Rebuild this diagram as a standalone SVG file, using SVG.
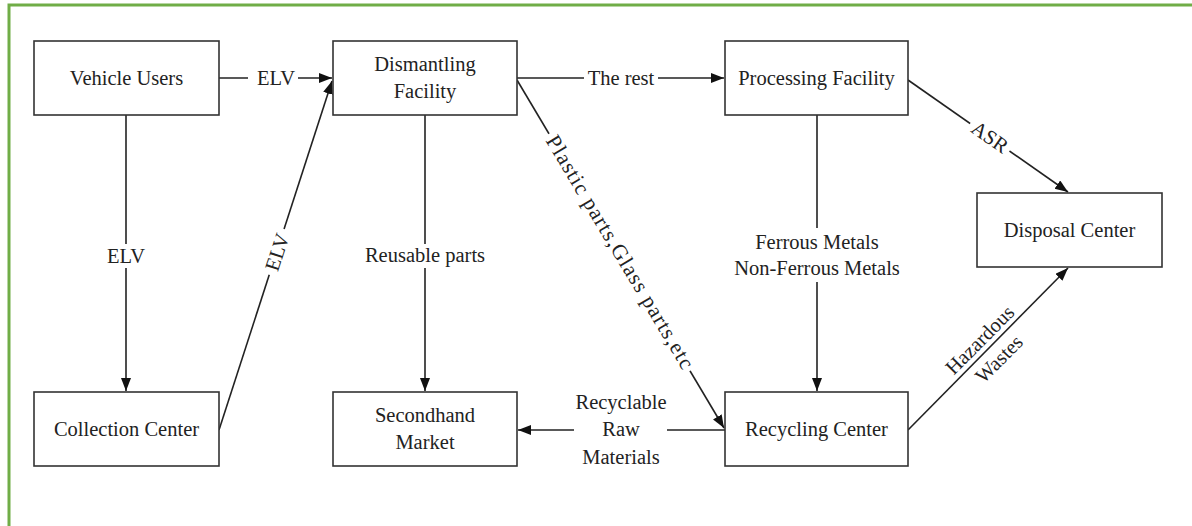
<svg xmlns="http://www.w3.org/2000/svg" width="1192" height="526" viewBox="0 0 1192 526">
<style>
.box{fill:#fff;stroke:#333;stroke-width:1.6}
.t{font-family:"Liberation Serif","Times New Roman",serif;font-size:20.5px;fill:#222;text-anchor:middle}
.c{fill:none;stroke:#222;stroke-width:1.6}
.gap{fill:#fff}
</style>
<defs>
<marker id="ah" markerUnits="userSpaceOnUse" markerWidth="14" markerHeight="12" refX="13" refY="5" orient="auto">
<path d="M0,0 L13,5 L0,10 z" fill="#111"/>
</marker>
</defs>
<rect x="0" y="0" width="1192" height="526" fill="#fff"/>
<path d="M9,526 V5 H1192" fill="none" stroke="#70ad47" stroke-width="3"/>

<g id="connectors">
<line class="c" x1="219" y1="78" x2="332" y2="78" marker-end="url(#ah)"/>
<line class="c" x1="126" y1="115" x2="126" y2="391" marker-end="url(#ah)"/>
<line class="c" x1="219" y1="430" x2="332" y2="81" marker-end="url(#ah)"/>
<line class="c" x1="425" y1="115" x2="425" y2="391" marker-end="url(#ah)"/>
<line class="c" x1="517" y1="78" x2="724" y2="78" marker-end="url(#ah)"/>
<line class="c" x1="517" y1="80" x2="724" y2="428" marker-end="url(#ah)"/>
<line class="c" x1="817" y1="115" x2="817" y2="391" marker-end="url(#ah)"/>
<line class="c" x1="908" y1="80" x2="1068" y2="192" marker-end="url(#ah)"/>
<line class="c" x1="908" y1="430" x2="1068" y2="268" marker-end="url(#ah)"/>
<line class="c" x1="725" y1="430" x2="518" y2="430" marker-end="url(#ah)"/>

<rect class="gap" x="248" y="68" width="50" height="20"/>
<text class="t" x="276" y="85">ELV</text>
<rect class="gap" x="106" y="244" width="40" height="24"/>
<text class="t" x="126" y="263">ELV</text>
<g transform="translate(277,252) rotate(-72)">
<rect class="gap" x="-24" y="-10" width="48" height="20"/>
<text class="t" x="0" y="7">ELV</text>
</g>
<rect class="gap" x="360" y="244" width="130" height="24"/>
<text class="t" x="425" y="262">Reusable parts</text>
<rect class="gap" x="584" y="68" width="74" height="20"/>
<text class="t" x="621" y="85">The rest</text>
<g transform="translate(620,252) rotate(59.13)">
<rect class="gap" x="-138" y="-10" width="276" height="20"/>
<text class="t" x="0" y="7" style="font-size:21.5px" textLength="268" lengthAdjust="spacing">Plastic parts,Glass parts,etc</text>
</g>
<g transform="translate(990,137) rotate(34.9)">
<rect class="gap" x="-24" y="-10" width="48" height="20"/>
<text class="t" x="0" y="7">ASR</text>
</g>
<rect class="gap" x="740" y="228" width="154" height="54"/>
<text class="t" x="817" y="249">Ferrous Metals</text>
<text class="t" x="817" y="275">Non-Ferrous Metals</text>
<g transform="translate(989,349) rotate(-45.2)">
<text class="t" x="0" y="-6">Hazardous</text>
<text class="t" x="0" y="21">Wastes</text>
</g>
<rect class="gap" x="574" y="390" width="93" height="80"/>
<text class="t" x="621" y="409">Recyclable</text>
<text class="t" x="621" y="436">Raw</text>
<text class="t" x="621" y="464">Materials</text>
</g>

<g id="vehicle-users">
<rect class="box" x="34" y="41" width="185" height="74"/>
<text class="t" x="126.5" y="85">Vehicle Users</text>
</g>
<g id="dismantling-facility">
<rect class="box" x="333" y="41" width="184" height="74"/>
<text class="t" x="425" y="71">Dismantling</text>
<text class="t" x="425" y="98">Facility</text>
</g>
<g id="processing-facility">
<rect class="box" x="725" y="41" width="183" height="74"/>
<text class="t" x="816.5" y="85">Processing Facility</text>
</g>
<g id="disposal-center">
<rect class="box" x="977" y="193" width="185" height="74"/>
<text class="t" x="1069.5" y="237">Disposal Center</text>
</g>
<g id="collection-center">
<rect class="box" x="34" y="392" width="185" height="74"/>
<text class="t" x="126.5" y="436">Collection Center</text>
</g>
<g id="secondhand-market">
<rect class="box" x="333" y="392" width="184" height="74"/>
<text class="t" x="425" y="422">Secondhand</text>
<text class="t" x="425" y="449">Market</text>
</g>
<g id="recycling-center">
<rect class="box" x="725" y="392" width="183" height="74"/>
<text class="t" x="816.5" y="436">Recycling Center</text>
</g>
</svg>
